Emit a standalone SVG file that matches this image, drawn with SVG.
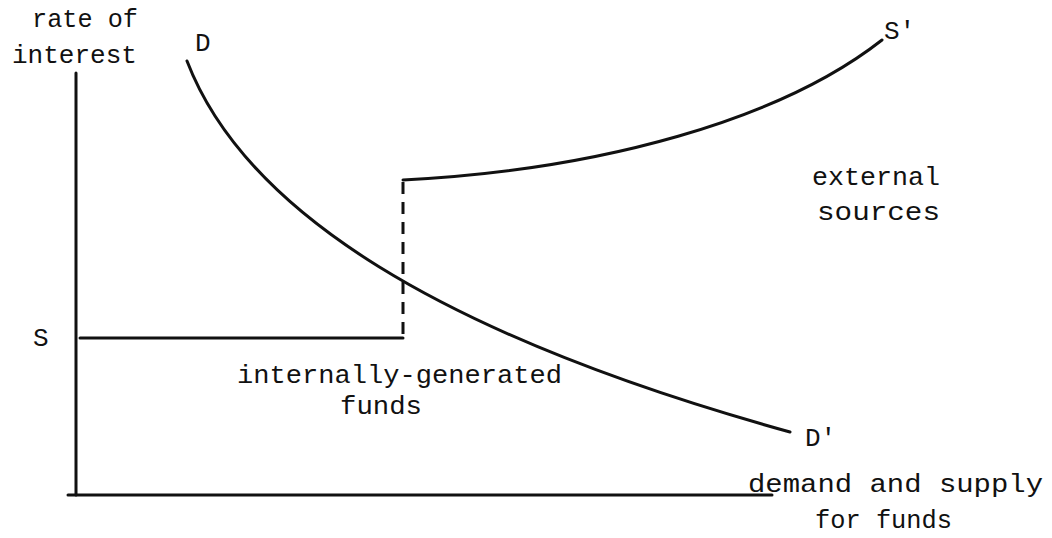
<svg xmlns="http://www.w3.org/2000/svg" width="1052" height="538" viewBox="0 0 1052 538">
<style>
text{font-family:"Liberation Mono","DejaVu Sans Mono",monospace;font-size:26px;fill:#111}
.ln{fill:none;stroke:#111;stroke-width:3;stroke-linecap:round}
.ds{fill:none;stroke:#111;stroke-width:3;stroke-dasharray:12,8}
</style>
<rect width="1052" height="538" fill="#fff"/>
<g id="connectors">
<path class="ln" d="M76,73 L76,495"/>
<path class="ln" d="M68,495 L772,495"/>
<path id="S-line" class="ln" d="M80,338 L403,338"/>
<path id="jump" class="ds" d="M403,182 L403,338"/>
<path id="S-prime" class="ln" d="M403,180 C600,170 780,120 882,40"/>
<path id="D-curve" class="ln" d="M187,61 C245,212 440,335 790,432"/>
</g>
<g id="axis-y-label">
<text x="32" y="27" textLength="106" lengthAdjust="spacingAndGlyphs">rate of</text>
<text x="12" y="63" textLength="125" lengthAdjust="spacingAndGlyphs">interest</text>
</g>
<g id="label-D"><text x="195" y="51">D</text></g>
<g id="label-Sp"><text x="884" y="39">S'</text></g>
<g id="label-external"><text x="812" y="185" textLength="128" lengthAdjust="spacingAndGlyphs">external</text>
<text x="817" y="220" textLength="123" lengthAdjust="spacingAndGlyphs">sources</text></g>
<g id="label-S"><text x="33" y="346">S</text></g>
<g id="label-internal"><text x="237" y="383" textLength="325" lengthAdjust="spacingAndGlyphs">internally-generated</text>
<text x="340" y="414" textLength="82" lengthAdjust="spacingAndGlyphs">funds</text></g>
<g id="label-Dp"><text x="805" y="446">D'</text></g>
<g id="axis-x-label"><text x="748" y="492" textLength="295" lengthAdjust="spacingAndGlyphs">demand and supply</text>
<text x="815" y="528" textLength="137" lengthAdjust="spacingAndGlyphs">for funds</text></g>
</svg>
